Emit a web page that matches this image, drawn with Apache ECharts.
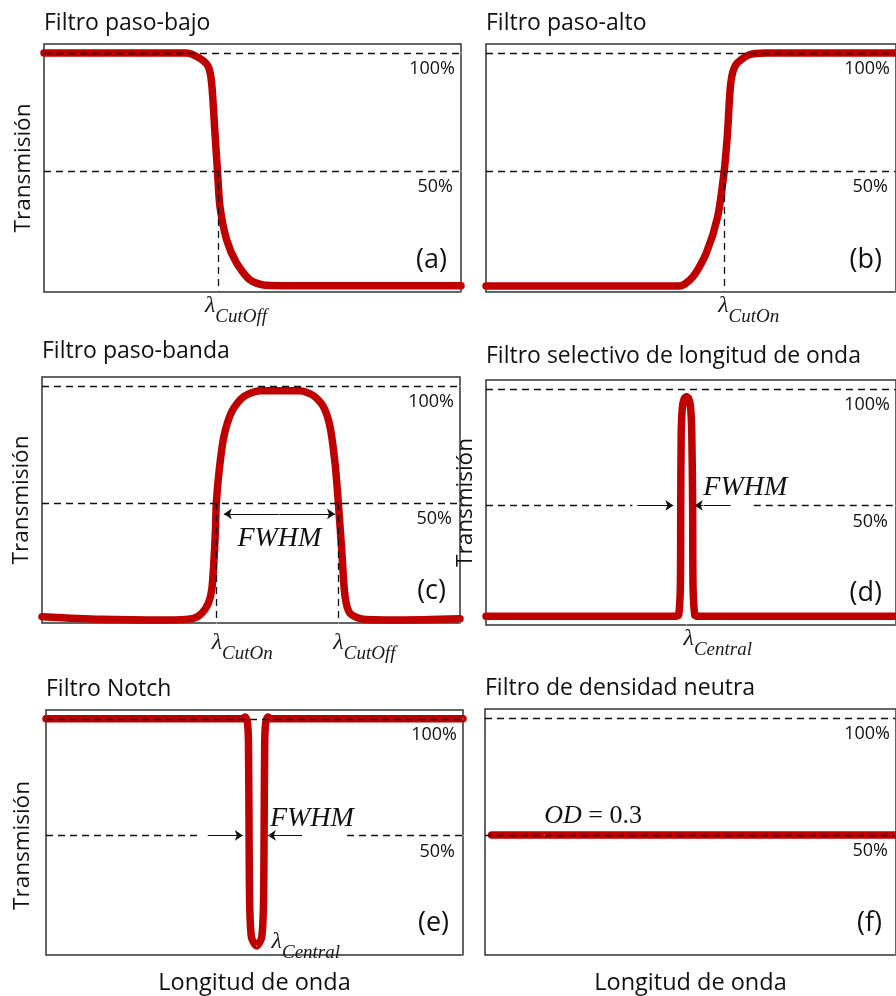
<!DOCTYPE html>
<html><head><meta charset="utf-8">
<script src="https://cdn.jsdelivr.net/npm/echarts@6/dist/echarts.min.js"></script>
<style>html,body{margin:0;padding:0;background:#fff}#c{width:896px;height:996px}</style>
</head><body><div id="c"></div>
<script>
// ---------------- data ----------------
const titles = ['Filtro paso-bajo', 'Filtro paso-alto', 'Filtro paso-banda',
  'Filtro selectivo de longitud de onda', 'Filtro Notch', 'Filtro de densidad neutra'];
const panelTags = ['(a)', '(b)', '(c)', '(d)', '(e)', '(f)'];
const levelValues = [100, 50];
const levelLabels = ['100%', '50%'];
const yLabel = 'Transmisión';
const xLabel = 'Longitud de onda';

// (a) low-pass
const aX = [0, 34.2, 37.4, 39.4, 40.2, 41.0, 41.6, 42.2, 43.8, 46.2, 49.4, 52.6, 60, 100];
const aT = [100, 100, 97.7, 94.2, 87.2, 66, 50, 34.9, 20.8, 10.9, 3.8, 1.7, 1.4, 1.4];
const aCut = 41.7;
// (b) high-pass
const bX = [0, 47.2, 50.5, 53.7, 56.5, 58.1, 58.9, 59.7, 60.9, 64.1, 68.1, 100];
const bT = [1.2, 1.2, 5.2, 15.1, 30.6, 50, 66, 87.2, 94.9, 99.2, 100, 100];
const bCut = 58.1;
// (c) band-pass
const cX = [0, 13.9, 29.8, 36.2, 38.2, 39.8, 40.6, 41.1, 41.5, 41.7, 42.4, 43.5, 45.4, 48.2, 52.2,
  61.7, 64.9, 67.3, 68.9, 70.1, 70.9, 71.7, 72.5, 73.7, 76.9, 85.6, 100];
const cT = [1.4, 0.3, 0, 0.7, 2.8, 7.1, 12.8, 24.2, 38.5, 49.9, 64.1, 78.3, 89, 95.4, 97.9,
  97.9, 95.9, 91.2, 82.6, 67, 49.9, 29.9, 10, 2.8, 0.3, 0, 0.5];
const cCutOn = 41.8, cCutOff = 70.9;
const cFwhm = [43.5, 70.1], cFwhmT = 45.3;
// (d) wavelength-selective
const dX = [0, 46.5, 47.0, 47.4, 47.5, 47.6, 47.9, 48.4, 48.9, 49.4, 49.9, 50.2, 50.4, 50.5, 50.9, 51.3, 100];
const dT = [2.5, 2.5, 3, 15, 50, 80, 92, 96, 96.6, 96, 92, 80, 50, 15, 3, 2.5, 2.5];
const dCentral = 48.9;
const dArrowL = [36.9, 45.7], dArrowR = [59.7, 50.9];
const dHalfLine = [[0, 35.7], [65.3, 100]];
// (e) notch
const eX = [0, 47.0, 47.8, 48.3, 48.55, 48.7, 48.85, 49.3, 50.5, 51.7, 52.15, 52.3, 52.45, 52.7, 53.2, 54.0, 100];
const eT = [100, 100, 100.8, 98.5, 90, 50, 20, 6, 2.6, 6, 20, 50, 90, 98.5, 100.8, 100, 100];
const eCentral = 50.5, eMinT = 2.6;
const eArrowL = [38.8, 47.2], eArrowR = [61.4, 53.2];
const eHalfLine = [[0, 36.5], [72.2, 100]];
// (f) neutral density
const fX = [1.6, 100];
const fT = [50, 50];

// ---------------- styles / layout ----------------
const RED = '#c00000';
const INK = '#111';
const SANS = "'Open Sans', 'Noto Sans', sans-serif";
const SERIF = "'Liberation Serif', 'DejaVu Serif', serif";
const yMin = -1.3, yMax = 103.8;
const layout = [
  {left: 44, top: 44, width: 417, height: 248},
  {left: 486, top: 44, width: 417, height: 248},
  {left: 42, top: 377, width: 418, height: 246},
  {left: 486, top: 380, width: 417, height: 245},
  {left: 46, top: 710, width: 417, height: 246},
  {left: 485, top: 709, width: 417, height: 246}
];
const titleTop = [12, 12, 340, 345, 678, 677];

const pts = (X, T) => X.map((x, i) => [x, T[i]]);
const curves = [pts(aX, aT), pts(bX, bT), pts(cX, cT), pts(dX, dT), pts(eX, eT), pts(fX, fT)];

const lamRich = {
  l: {fontFamily: SERIF, fontStyle: 'italic', fontSize: 24, padding: [0, 0, 11, 0], color: '#1a1a1a'},
  s: {fontFamily: SERIF, fontStyle: 'italic', fontSize: 19, padding: [11, 0, 0, 0], color: '#1a1a1a'}
};
function note(x, y, text, o) {
  return {
    value: [x, y],
    label: {
      show: true, position: 'inside', formatter: text, opacity: 1,
      align: o.align || 'left', verticalAlign: o.va || 'top', offset: o.off || [0, 0],
      fontFamily: o.ff || SANS, fontSize: o.fs || 18, fontStyle: o.fst || 'normal',
      color: o.color || INK, textBorderWidth: 0, rich: o.rich
    }
  };
}
const lam = (x, sub, off) => note(x, yMin, '{l|λ}{s|' + sub + '}', {off: off, rich: lamRich});
const fwhmStyle = {ff: SERIF, fst: 'italic', fs: 28, color: '#111'};

function commonNotes(i) {
  return [
    note(100, yMin, panelTags[i], {align: 'right', va: 'middle', off: [-14, -32], fs: 27}),
    note(100, levelValues[0], levelLabels[0], {align: 'right', off: [-6, 7]}),
    note(100, levelValues[1], levelLabels[1], {align: 'right', off: [-8, 7]})
  ];
}
const notes = [
  commonNotes(0).concat([lam(aCut, 'CutOff', [-13, 2])]),
  commonNotes(1).concat([lam(bCut, 'CutOn', [-6, 2])]),
  commonNotes(2).concat([lam(cCutOn, 'CutOn', [-5, 8]), lam(cCutOff, 'CutOff', [-5, 8]),
    note((cFwhm[0] + cFwhm[1]) / 2, cFwhmT, 'FWHM', Object.assign({align: 'center', va: 'middle', off: [0, 25]}, fwhmStyle))]),
  commonNotes(3).concat([lam(dCentral, 'Central', [-3, 2]),
    note(dArrowR[1] + 2.1, 50, 'FWHM', Object.assign({va: 'middle', off: [0, -18]}, fwhmStyle))]),
  commonNotes(4).concat([note(eCentral, eMinT, '{l|λ}{s|Central}', {off: [15, -16], rich: lamRich}),
    note(eArrowR[1] + 0.5, 50, 'FWHM', Object.assign({va: 'middle', off: [0, -17]}, fwhmStyle))]),
  commonNotes(5).concat([note(14.4, fT[0], '{i|OD} = 0.3', {va: 'middle', off: [0, -19], ff: SERIF, fs: 26, color: '#111',
    rich: {i: {fontFamily: SERIF, fontStyle: 'italic', fontSize: 26, color: '#111'}}})])
];

const seg = (x1, y1, x2, y2) => [{coord: [x1, y1]}, {coord: [x2, y2]}];
const hFull = v => seg(0, v, 100, v);
const vDrop = x => seg(x, levelValues[1], x, yMin);
const guides = [
  [hFull(100), hFull(50), vDrop(aCut)],
  [hFull(100), hFull(50), vDrop(bCut)],
  [hFull(100), hFull(50), vDrop(cCutOn), vDrop(cCutOff)],
  [hFull(100), seg(dHalfLine[0][0], 50, dHalfLine[0][1], 50), seg(dHalfLine[1][0], 50, dHalfLine[1][1], 50)],
  [hFull(100), seg(eHalfLine[0][0], 50, eHalfLine[0][1], 50), seg(eHalfLine[1][0], 50, eHalfLine[1][1], 50)],
  [hFull(100), hFull(50)]
];
const arrow1 = (a, y) => [{coord: [a[0], y], symbol: 'none'}, {coord: [a[1], y], symbol: 'arrow'}];
const arrows = [
  [], [],
  [[{coord: [cFwhm[0], cFwhmT], symbol: 'arrow'}, {coord: [cFwhm[1], cFwhmT], symbol: 'arrow'}]],
  [arrow1(dArrowL, 50), arrow1(dArrowR, 50)],
  [arrow1(eArrowL, 50), arrow1(eArrowR, 50)],
  []
];
const showY = [true, false, true, true, true, false];
const showX = [false, false, false, false, true, true];
const yNamePad = [[0, 0, 0, 0], null, [0, 0, 0, 0], [0, 0, 0, 0], [0, 26, 0, 0], null];

const grid = [], xAxis = [], yAxis = [], series = [], title = [];
layout.forEach((g, i) => {
  grid.push(Object.assign({show: true, borderColor: '#333', borderWidth: 1.5, backgroundColor: 'transparent'}, g));
  title.push({text: titles[i], left: g.left, top: titleTop[i], padding: 0,
    textStyle: {fontFamily: SANS, fontSize: 23, fontWeight: 'normal', color: INK}});
  xAxis.push({type: 'value', gridIndex: i, min: 0, max: 100,
    axisLine: {show: false}, axisTick: {show: false}, axisLabel: {show: false}, splitLine: {show: false},
    name: showX[i] ? xLabel : '', nameLocation: 'middle', nameGap: 16,
    nameTextStyle: {fontFamily: SANS, fontSize: 23.5, color: INK}});
  yAxis.push({type: 'value', gridIndex: i, min: yMin, max: yMax,
    axisLine: {show: false}, axisTick: {show: false}, axisLabel: {show: false}, splitLine: {show: false},
    name: showY[i] ? yLabel : '', nameLocation: 'middle', nameGap: i === 4 ? 12 : 9,
    nameTextStyle: {fontFamily: SANS, fontSize: 22.5, color: INK, padding: yNamePad[i] || 0}});
  series.push({type: 'line', xAxisIndex: i, yAxisIndex: i, data: curves[i], showSymbol: false,
    smooth: 0.25, z: 2, silent: true, animation: false,
    lineStyle: {color: RED, width: 7.5, cap: 'round', join: 'round'}});
  series.push({type: 'line', xAxisIndex: i, yAxisIndex: i, data: [], z: 3, silent: true, animation: false,
    markLine: {silent: true, animation: false, symbol: 'none', label: {show: false},
      lineStyle: {color: '#111', width: 1.3, type: [7, 5]}, data: guides[i]}});
  if (arrows[i].length) series.push({type: 'line', xAxisIndex: i, yAxisIndex: i, data: [], z: 4, silent: true, animation: false,
    markLine: {silent: true, animation: false, symbol: ['none', 'arrow'], symbolSize: 8, label: {show: false},
      lineStyle: {color: '#111', width: 1.2, type: 'solid'}, data: arrows[i]}});
  series.push({type: 'scatter', xAxisIndex: i, yAxisIndex: i, data: notes[i], symbolSize: 1, clip: false,
    itemStyle: {color: '#fff', opacity: 1}, z: 5, silent: true, animation: false});
});

const chart = echarts.init(document.getElementById('c'), null, {renderer: 'canvas'});
chart.setOption({animation: false, backgroundColor: '#fff', title, grid, xAxis, yAxis, series});
</script></body></html>
